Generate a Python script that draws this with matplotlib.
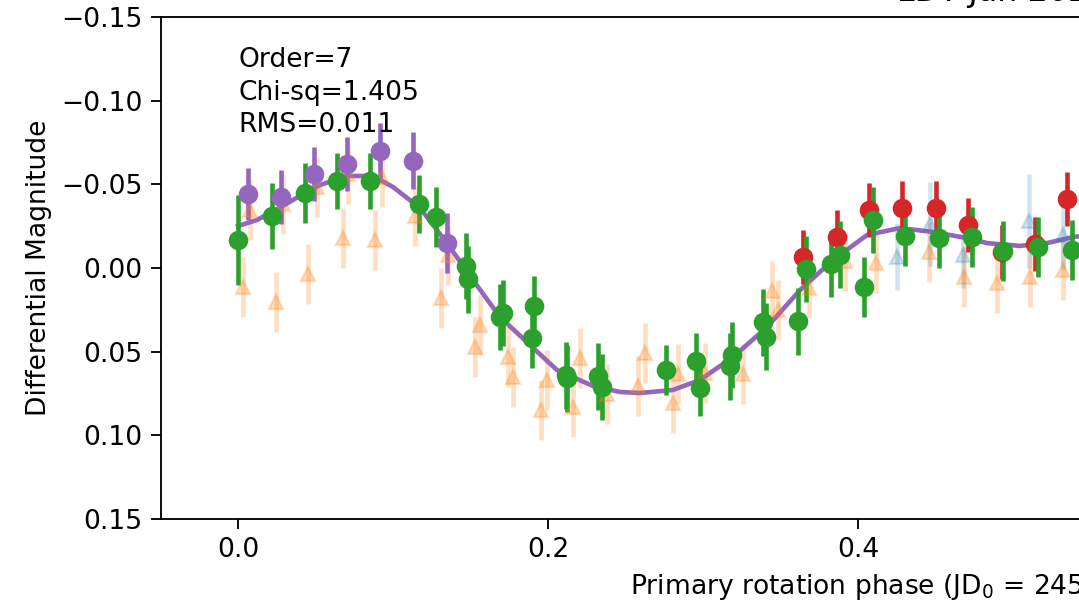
import matplotlib
matplotlib.use('Agg')
import matplotlib.pyplot as plt

plt.rcParams['font.size'] = 11.5
plt.rcParams['xtick.major.size'] = 4.4
plt.rcParams['ytick.major.size'] = 4.4

# Fourier fit (order 7), sampled from the figure
fit_phase = [0.0, 0.0123, 0.0277, 0.0432, 0.0529, 0.0703, 0.0871, 0.1000, 0.1174,
             0.1348, 0.1516, 0.1690, 0.1884, 0.2058, 0.2290, 0.2465, 0.2594, 0.2806,
             0.2981, 0.3194, 0.3413, 0.3626, 0.3839, 0.4058, 0.4271, 0.4484, 0.4703,
             0.4832, 0.5045, 0.5219, 0.5387, 0.556]
fit_mag = [-0.0251, -0.0287, -0.0365, -0.0448, -0.0496, -0.0550, -0.0550, -0.0484,
           -0.0359, -0.0149, 0.0072, 0.0293, 0.0460, 0.0610, 0.0705, 0.0741, 0.0747,
           0.0729, 0.0669, 0.0532, 0.0353, 0.0132, -0.0048, -0.0197, -0.0239, -0.0215,
           -0.0179, -0.0149, -0.0132, -0.0149, -0.0185, -0.0205]

# night 1 (orange triangles)
orange_phase = [0.0032, 0.0077, 0.0245, 0.0290, 0.0452, 0.0510, 0.0677, 0.0710, 0.0884,
                0.0929, 0.1142, 0.1310, 0.1355, 0.1529, 0.1561, 0.1742, 0.1774, 0.1955,
                0.1994, 0.2161, 0.2206, 0.2381, 0.2581, 0.2626, 0.2806, 0.2839, 0.3013,
                0.3258, 0.3445, 0.3484, 0.3684, 0.3916, 0.4116, 0.4458, 0.4684, 0.4897,
                0.5110, 0.5323]
orange_mag = [0.0114, -0.0347, 0.0203, -0.0383, 0.0036, -0.0484, -0.0179, -0.0562, -0.0167,
              -0.0544, -0.0311, 0.0179, -0.0078, 0.0472, 0.0341, 0.0532, 0.0652, 0.0849,
              0.0669, 0.0831, 0.0538, 0.0753, 0.0705, 0.0508, 0.0807, 0.0634, 0.0628,
              0.0634, 0.0137, 0.0251, 0.0120, -0.0042, -0.0030, -0.0096, 0.0054, 0.0090,
              0.0054, 0.0012]
orange_err = 0.018

# night 2 (blue triangles)
blue_phase = [0.4252, 0.4465, 0.4677, 0.5103, 0.5323]
blue_mag = [-0.0066, -0.0263, -0.0078, -0.0281, -0.0197]
blue_err = [0.02, 0.025, 0.02, 0.028, 0.02]

# red circles
red_phase = [0.3645, 0.3865, 0.4071, 0.4284, 0.4503, 0.4710, 0.4929, 0.5142, 0.5348]
red_mag = [-0.0066, -0.0185, -0.0347, -0.0359, -0.0359, -0.0257, -0.0096, -0.0143, -0.0412]
red_err = 0.016

# purple circles
purple_phase = [0.0065, 0.0277, 0.0490, 0.0703, 0.0916, 0.1129, 0.1348]
purple_mag = [-0.0442, -0.0424, -0.0562, -0.0622, -0.0699, -0.0640, -0.0149]
purple_err = [0.0155, 0.016, 0.016, 0.016, 0.017, 0.017, 0.018]

# green circles
green_phase = [0.0, 0.0219, 0.0432, 0.0639, 0.0852, 0.1168, 0.1277, 0.1471, 0.1484,
               0.1690, 0.1710, 0.1910, 0.1897, 0.2116, 0.2123, 0.2323, 0.2348, 0.2761,
               0.2955, 0.2981, 0.3187, 0.3174, 0.3387, 0.3406, 0.3613, 0.3665, 0.3826,
               0.3884, 0.4039, 0.4097, 0.4303, 0.4523, 0.4735, 0.4935, 0.5161, 0.5381]
green_mag = [-0.0167, -0.0311, -0.0448, -0.0520, -0.0520, -0.0383, -0.0305, -0.0012, 0.0066,
             0.0293, 0.0269, 0.0227, 0.0418, 0.0640, 0.0658, 0.0646, 0.0711, 0.0610,
             0.0556, 0.0717, 0.0520, 0.0586, 0.0323, 0.0412, 0.0317, 0.0006, -0.0024,
             -0.0078, 0.0114, -0.0287, -0.0191, -0.0179, -0.0185, -0.0102, -0.0126, -0.0108]
green_err = [0.027, 0.0195, 0.018, 0.017, 0.0165, 0.0175, 0.018, 0.02, 0.02,
             0.02, 0.02, 0.018, 0.018, 0.02, 0.02, 0.02, 0.02, 0.015,
             0.017, 0.017, 0.02, 0.02, 0.02, 0.02, 0.02, 0.02, 0.02,
             0.02, 0.018, 0.02, 0.018, 0.018, 0.018, 0.018, 0.018, 0.018]

dpi = 166
fig = plt.figure(figsize=(1079 / dpi, 607 / dpi), dpi=dpi)
# the axes run past the right edge of the canvas (cropped view)
ax = fig.add_axes([160.5 / 1079, 88 / 607, 1705 / 1079, 502 / 607])

ax.errorbar(orange_phase, orange_mag, yerr=orange_err, fmt='^', color='C1',
            alpha=0.25, ms=6, elinewidth=2)
ax.errorbar(blue_phase, blue_mag, yerr=blue_err, fmt='^', color='C0',
            alpha=0.2, ms=6, elinewidth=2)
ax.plot(fit_phase, fit_mag, color='C4', linewidth=2)
ax.errorbar(red_phase, red_mag, yerr=red_err, fmt='o', color='C3', ms=7.5, elinewidth=2)
ax.errorbar(purple_phase, purple_mag, yerr=purple_err, fmt='o', color='C4', ms=7.5, elinewidth=2)
ax.errorbar(green_phase, green_mag, yerr=green_err, fmt='o', color='C2', ms=7.5, elinewidth=2)

ax.text(0.0, -0.132, 'Order=7\nChi-sq=1.405\nRMS=0.011', va='top', ha='left',
        linespacing=1.32)

ax.set_xlim(-0.05, 1.05)
ax.set_ylim(0.15, -0.15)
ax.set_xticks([0.0, 0.2, 0.4, 0.6, 0.8, 1.0])
ax.set_yticks([-0.15, -0.10, -0.05, 0.0, 0.05, 0.10, 0.15])
ax.set_ylabel('Differential Magnitude')
ax.set_xlabel(r'Primary rotation phase (JD$_0$ = 2459227.5)', ha='left', x=(630 - 160.5) / 1705)
ax.set_title('LDT Jan 2021', ha='left', x=(897 - 160.5) / 1705, pad=7)

fig.savefig('out.png', dpi=dpi)
